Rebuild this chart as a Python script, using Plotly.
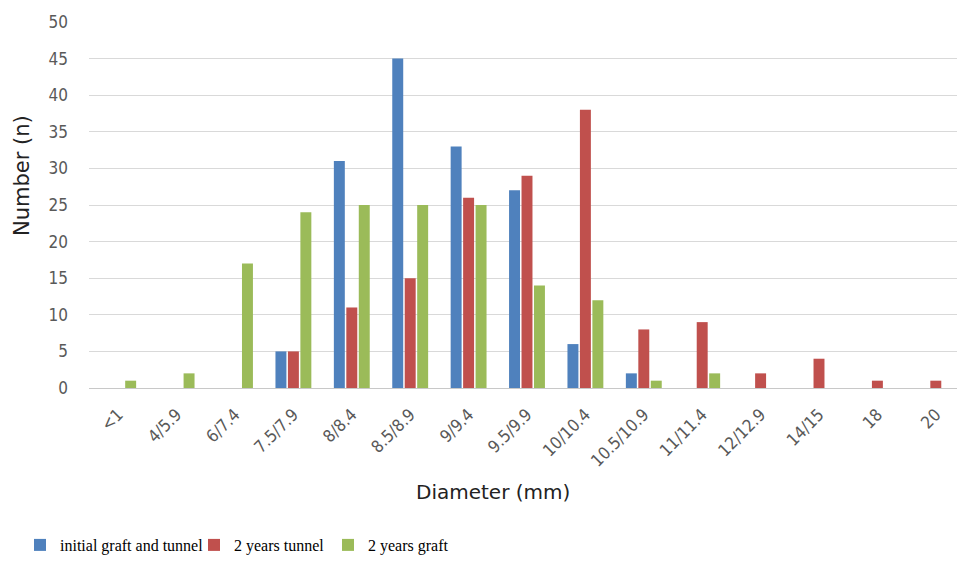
import plotly.graph_objects as go

categories = ["<1", "4/5.9", "6/7.4", "7.5/7.9", "8/8.4", "8.5/8.9", "9/9.4", "9.5/9.9",
              "10/10.4", "10.5/10.9", "11/11.4", "12/12.9", "14/15", "18", "20"]
initial_graft_tunnel = [0, 0, 0, 5, 31, 45, 33, 27, 6, 2, 0, 0, 0, 0, 0]
two_years_tunnel = [0, 0, 0, 5, 11, 15, 26, 29, 38, 8, 9, 2, 4, 1, 1]
two_years_graft = [1, 2, 17, 24, 25, 25, 25, 14, 12, 1, 2, 0, 0, 0, 0]
y_ticks = [0, 5, 10, 15, 20, 25, 30, 35, 40, 45, 50]

# page body has an 8px margin; compensate so the figure lines up with the window
OFF = 8
W, H = 965 - OFF, 562 - OFF
L, R, T, B = 89 - OFF, 0, 22 - OFF, 174
pw, ph = W - L - R, H - T - B

def px_x(x):  # window pixel -> paper coord
    return (x - OFF - L) / pw

def px_y(y):
    return (T + ph - (y - OFF)) / ph

series = [
    ("initial graft and tunnel", initial_graft_tunnel, "#4F81BD", "legend"),
    ("2 years tunnel", two_years_tunnel, "#C0504D", "legend2"),
    ("2 years graft", two_years_graft, "#9BBB59", "legend3"),
]

fig = go.Figure()
for name, vals, col, lg in series:
    fig.add_trace(go.Bar(
        x=categories, y=vals, name=name,
        marker=dict(color=col, line=dict(width=0)),
        legend=lg,
    ))

legend_font = dict(family="Liberation Serif, Times New Roman, serif", size=16, color="#000000")
leg_common = dict(orientation="h", yanchor="middle", xanchor="left",
                  bgcolor="rgba(0,0,0,0)", font=legend_font, itemwidth=30)

tick_family = "Liberation Sans Narrow, DejaVu Sans Condensed, sans-serif"
title_family = "DejaVu Sans, Verdana, sans-serif"

fig.update_layout(
    width=W, height=H,
    margin=dict(l=L, r=R, t=T, b=B, autoexpand=False),
    paper_bgcolor="white", plot_bgcolor="white",
    barmode="group", bargap=0.36, bargroupgap=0.12,
    showlegend=True,
    legend=dict(x=px_x(20), y=px_y(545), **leg_common),
    legend2=dict(x=px_x(194), y=px_y(545), **leg_common),
    legend3=dict(x=px_x(328), y=px_y(545), **leg_common),
    font=dict(family=tick_family, color="#595959"),
    xaxis=dict(
        type="category", tickangle=-45, showgrid=False,
        showline=True, linecolor="#c8c8c8", linewidth=1,
        ticks="", ticklabelstandoff=9,
        tickfont=dict(family=tick_family, size=17, color="#595959"),
    ),
    yaxis=dict(
        range=[0, 50], tickvals=y_ticks, showgrid=True, gridcolor="#d9d9d9", gridwidth=1,
        zeroline=False, showline=False, ticks="", ticklabelstandoff=20,
        tickfont=dict(family=tick_family, size=17, color="#595959"),
    ),
    annotations=[
        dict(text="Number (n)", xref="paper", yref="paper", x=px_x(22), y=px_y(176),
             textangle=-90, showarrow=False, xanchor="center", yanchor="middle",
             font=dict(family=title_family, size=21, color="#222222")),
        dict(text="Diameter (mm)", xref="paper", yref="paper", x=px_x(493), y=px_y(492),
             showarrow=False, xanchor="center", yanchor="middle",
             font=dict(family=title_family, size=20, color="#222222")),
    ],
)

fig.write_html("out.html")
